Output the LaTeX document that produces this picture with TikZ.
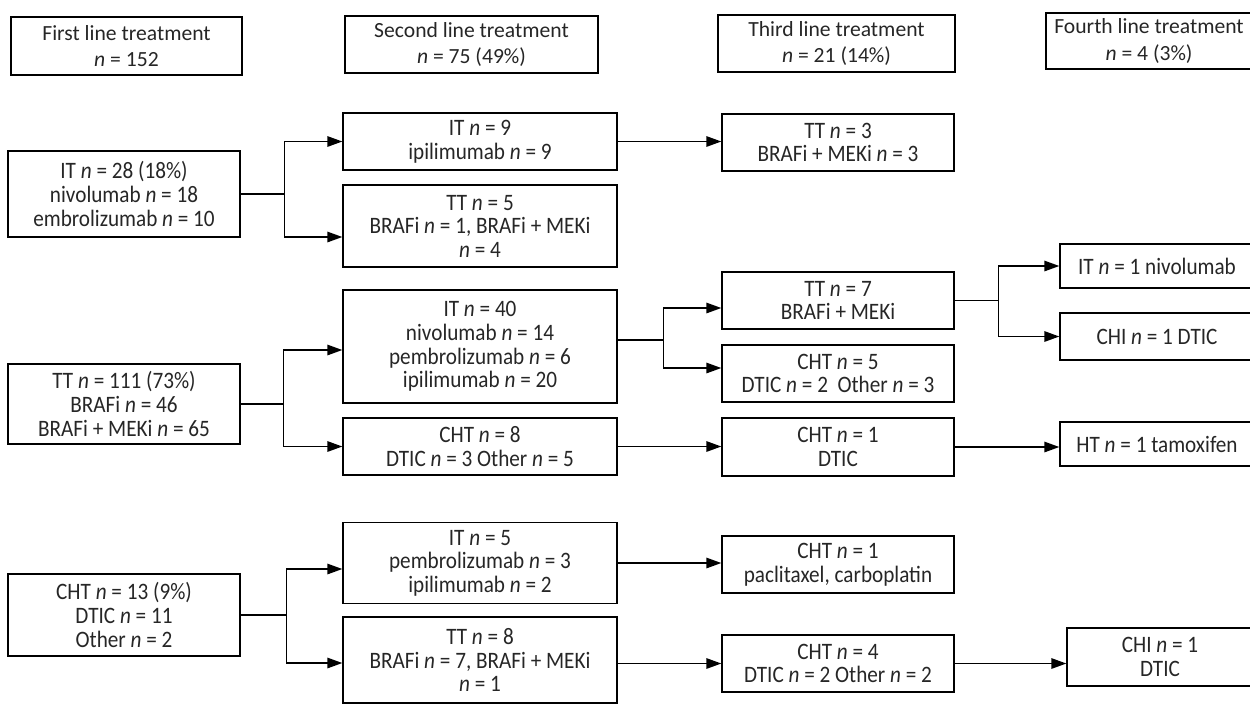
\documentclass[tikz,border=0pt]{standalone}
\usepackage{fontspec}
\setmainfont{Carlito}
\newfontfamily\bodyfont{Carlito}[FakeStretch=0.9]
\usepackage{tikz}
\usetikzlibrary{arrows.meta, positioning}

\newcommand{\pn}{\textit{n}}

\begin{document}
\begin{tikzpicture}[
    x=0.02cm, y=-0.02cm,
    every node/.style={font=\bodyfont\fontsize{13.4}{13.4}\selectfont, text=black!85},
    box/.style={rectangle, draw, line width=0.8pt, align=center, inner sep=2pt},
    head/.style={box, font=\fontsize{12.3}{15}\selectfont},
    colA/.style={box, minimum width=4.64cm},
    colB/.style={box, minimum width=5.48cm},
    colC/.style={box, minimum width=4.64cm},
    colD/.style={box, minimum width=3.88cm},
    arrow/.style={-{Triangle[length=3mm, width=2.1mm]}, line width=0.8pt},
]
\useasboundingbox (0,0) rectangle (1250,704);

\node[head, minimum width=4.62cm, minimum height=1.16cm] (h1) at (126.5,46) {First line treatment\\\pn{} = 152};
\node[head, minimum width=5.06cm, minimum height=1.14cm] (h2) at (471.5,44.5) {Second line treatment\\\pn{} = 75 (49\%)};
\node[head, minimum width=4.74cm, minimum height=1.14cm] (h3) at (836.5,43.5) {Third line treatment\\\pn{} = 21 (14\%)};
\node[head, minimum width=4.12cm, minimum height=1.12cm] (h4) at (1149,41) {Fourth line treatment\\\pn{} = 4 (3\%)};

\node[colA, minimum height=1.72cm] (a1) at (124,194) {IT \pn{} = 28 (18\%)\\nivolumab \pn{} = 18\\embrolizumab \pn{} = 10};
\node[colA, minimum height=1.60cm] (a2) at (124,404) {TT \pn{} = 111 (73\%)\\BRAFi \pn{} = 46\\BRAFi + MEKi \pn{} = 65};
\node[colA, minimum height=1.64cm] (a3) at (124,615) {CHT \pn{} = 13 (9\%)\\DTIC \pn{} = 11\\Other \pn{} = 2};

\node[colB, minimum height=1.14cm] (b1) at (480,141.5) {IT \pn{} = 9\\ipilimumab \pn{} = 9};
\node[colB, minimum height=1.64cm] (b2) at (480,226) {TT \pn{} = 5\\BRAFi \pn{} = 1, BRAFi + MEKi\\\pn{} = 4};
\node[colB, minimum height=2.26cm] (b3) at (480,346.5) {IT \pn{} = 40\\nivolumab \pn{} = 14\\pembrolizumab \pn{} = 6\\ipilimumab \pn{} = 20};
\node[colB, minimum height=1.14cm] (b4) at (480,446.5) {CHT \pn{} = 8\\DTIC \pn{} = 3 Other \pn{} = 5};
\node[colB, minimum height=1.62cm] (b5) at (480,563) {IT \pn{} = 5\\pembrolizumab \pn{} = 3\\ipilimumab \pn{} = 2};
\node[colB, minimum height=1.72cm] (b6) at (480,660) {TT \pn{} = 8\\BRAFi \pn{} = 7, BRAFi + MEKi\\\pn{} = 1};

\node[colC, minimum height=1.14cm] (c1) at (838,142.5) {TT \pn{} = 3\\BRAFi + MEKi \pn{} = 3};
\node[colC, minimum height=1.14cm] (c2) at (838,300.5) {TT \pn{} = 7\\BRAFi + MEKi};
\node[colC, minimum height=1.14cm] (c3) at (838,373.5) {CHT \pn{} = 5\\DTIC \pn{} = 2\ \ Other \pn{} = 3};
\node[colC, minimum height=1.16cm] (c4) at (838,447) {CHT \pn{} = 1\\DTIC};
\node[colC, minimum height=1.14cm] (c5) at (838,564.5) {CHT \pn{} = 1\\paclitaxel, carboplatin};
\node[colC, minimum height=1.14cm] (c6) at (838,663.5) {CHT \pn{} = 4\\DTIC \pn{} = 2 Other \pn{} = 2};

\node[colD, minimum height=0.88cm] (d1) at (1157,266) {IT \pn{} = 1 nivolumab};
\node[colD, minimum height=0.94cm] (d2) at (1157,336.5) {CHI \pn{} = 1 DTIC};
\node[colD, minimum height=0.88cm] (d3) at (1157,444) {HT \pn{} = 1 tamoxifen};
\node[colD, minimum width=3.72cm, minimum height=1.16cm] (d4) at (1160,657) {CHI \pn{} = 1\\DTIC};

\draw[arrow] (a1.east) -- ++(44,0) |- (b1.west);
\draw[arrow] (a1.east) -- ++(44,0) |- ([yshift=-0.22cm]b2.west);
\draw[arrow] (b1.east) -- (b1.east -| c1.west);
\draw[arrow] (a2.east) -- ++(43,0) |- ([yshift=-0.07cm]b3.west);
\draw[arrow] (a2.east) -- ++(43,0) |- (b4.west);
\draw[arrow] ([yshift=0.13cm]b3.east) -- ++(46,0) |- ([yshift=-0.15cm]c2.west);
\draw[arrow] ([yshift=0.13cm]b3.east) -- ++(46,0) |- ([yshift=0.11cm]c3.west);
\draw[arrow] (c2.east) -- ++(44,0) |- (d1.west);
\draw[arrow] (c2.east) -- ++(44,0) |- (d2.west);
\draw[arrow] (b4.east) -- (b4.east -| c4.west);
\draw[arrow] (c4.east) -- (c4.east -| d3.west);
\draw[arrow] (a3.east) -- ++(46,0) |- ([yshift=-0.12cm]b5.west);
\draw[arrow] (a3.east) -- ++(46,0) |- ([yshift=-0.06cm]b6.west);
\draw[arrow] (b5.east) -- (b5.east -| c5.west);
\draw[arrow] (c6.west -| b6.east) -- (c6.west);
\draw[arrow] (c6.east) -- (c6.east -| d4.west);
\end{tikzpicture}
\end{document}
